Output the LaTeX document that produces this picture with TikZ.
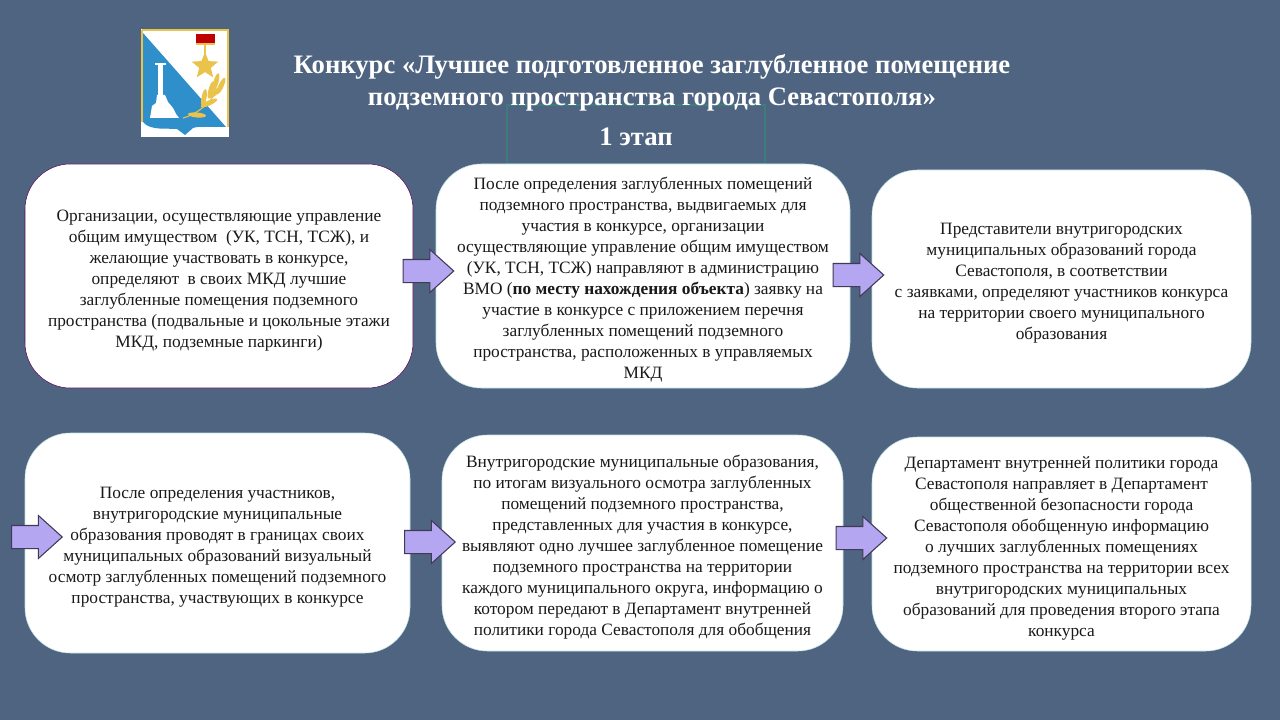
\documentclass[tikz,border=0pt]{standalone}
\usepackage{fontspec}
\setmainfont{Liberation Serif}
\usepackage{xcolor}
\usetikzlibrary{arrows.meta,shapes.arrows,shapes.geometric}
\definecolor{MyBack}{HTML}{4F6480}
\definecolor{MyBlue}{HTML}{2F8FCB}
\definecolor{MyGold}{HTML}{E9C34A}
\definecolor{MyPurple}{HTML}{B5A6F2}
\definecolor{MyTeal}{HTML}{3E7C7C}
\newcommand{\MyGap}{\rule{0pt}{15pt}}

\begin{document}
\begin{tikzpicture}[
   x=0.75pt, y=-0.75pt,
MyBox/.style={draw, fill=white, rounded corners=34pt, outer sep=0pt, anchor=north west,
                text=black!90, align=center, inner sep=0pt,
                font=\fontsize{13}{15.75}\selectfont},
MyArrow/.style={shape=single arrow, draw=MyPurple!35!black, fill=MyPurple, line width=0.8pt,
                minimum height=38pt, minimum width=31.5pt, inner xsep=0pt, inner ysep=8.25pt,
                single arrow head extend=7.5pt, single arrow tip angle=84},
MyTitle/.style={text=white, align=center, font=\bfseries\fontsize{20}{24}\selectfont},
  ]
\fill[MyBack] (0,0) rectangle (1280,720);
\useasboundingbox (0,0) rectangle (1280,720);

% emblem
\fill[white] (141,29) rectangle (229,137);
\draw[MyGold, line width=0.8pt] (142,30) -- (228,30) -- (228,127);
\draw[MyGold, line width=0.8pt] (142,30) -- (142,122);
\fill[MyBlue] (143,33) -- (226,127) .. controls (212,127) and (198,126) .. (193,128) -- (185,135) -- (177,129)
   .. controls (168,128) and (150,131) .. (143,122) -- cycle;
\fill[red!75!black] (196,34) rectangle (215,44);
\draw[MyGold, line width=0.8pt] (196,44) -- (215,44);
\draw[MyGold, line width=0.8pt] (205,44) -- (205,54);
\node[star, star points=5, star point ratio=2.3, fill=MyGold, inner sep=0pt, minimum size=21pt] (star) at (205,66) {};
\fill[white] (155,63) rectangle (166,65);
\fill[white] (158,65) rectangle (163,97);
\fill[white] (150,118) -- (152,106) -- (156,103) -- (157,95) -- (165,95) -- (168,102) -- (173,108) -- (176,114) -- (179,118) -- cycle;
\draw[MyGold, line width=0.8pt] (183,118) .. controls (198,114) and (212,102) .. (220,85);
\foreach \a/\b/\r in {197/115/-5, 209/103/25, 204/98/80, 216/92/40, 211/90/75, 221/86/65, 216/82/75}
  \fill[MyGold, shift={(\a,\b)}, rotate=\r] (0,0) ellipse (9 and 2.5);

% title
\node[draw=MyTeal, line width=0.8pt, minimum width=193.5pt, minimum height=44pt, inner sep=0pt, outer sep=0pt, anchor=north west] (frame) at (507,105) {};
\node[MyTitle] (title) at (652,82.5) {Конкурс «Лучшее подготовленное заглубленное помещение\\подземного пространства города Севастополя»};
\node[MyTitle] (stage) at (636,137) {1 этап};

% boxes
\node[MyBox, draw=violet!70!black, minimum width=291pt, minimum height=168pt] (1) at (25,164) {\MyGap Организации, осуществляющие управление\\общим имуществом\ \ (УК, ТСН, ТСЖ), и\\желающие участвовать в конкурсе,\\определяют\ \ в своих МКД лучшие\\заглубленные помещения подземного\\пространства (подвальные и цокольные этажи\\МКД, подземные паркинги)};
\node[MyBox, draw=teal!25!white, minimum width=310.5pt, minimum height=168pt] (2) at (436,164) {\MyGap После определения заглубленных помещений\\подземного пространства, выдвигаемых для\\участия в конкурсе, организации\\осуществляющие управление общим имуществом\\(УК, ТСН, ТСЖ) направляют в администрацию\\ВМО (\textbf{по месту нахождения объекта}) заявку на\\участие в конкурсе с приложением перечня\\заглубленных помещений подземного\\пространства, расположенных в управляемых\\МКД};
\node[MyBox, draw=teal!25!white, minimum width=284.25pt, minimum height=163.5pt] (3) at (872,170) {\MyGap Представители внутригородских\\муниципальных образований города\\Севастополя, в соответствии\\с заявками, определяют участников конкурса\\на территории своего муниципального\\образования};
\node[MyBox, draw=teal!25!white, minimum width=288.75pt, minimum height=165pt] (4) at (25,433) {\MyGap После определения участников,\\внутригородские муниципальные\\образования проводят в границах своих\\муниципальных образований визуальный\\осмотр заглубленных помещений подземного\\пространства, участвующих в конкурсе};
\node[MyBox, draw=teal!25!white, minimum width=300.75pt, minimum height=162pt] (5) at (442,435) {\MyGap Внутригородские муниципальные образования,\\по итогам визуального осмотра заглубленных\\помещений подземного пространства,\\представленных для участия в конкурсе,\\выявляют одно лучшее заглубленное помещение\\подземного пространства на территории\\каждого муниципального округа, информацию о\\котором передают в Департамент внутренней\\политики города Севастополя для обобщения};
\node[MyBox, draw=teal!25!white, minimum width=284.25pt, minimum height=160.5pt] (6) at (872,437) {\MyGap Департамент внутренней политики города\\Севастополя направляет в Департамент\\общественной безопасности города\\Севастополя обобщенную информацию\\о лучших заглубленных помещениях\\подземного пространства на территории всех\\внутригородских муниципальных\\образований для проведения второго этапа\\конкурса};

% arrows
\node[MyArrow] (a1) at (422,271) {};
\node[MyArrow] (a2) at (852,275) {};
\node[MyArrow] (a3) at (30.5,537) {};
\node[MyArrow] (a4) at (423.5,542) {};
\node[MyArrow] (a5) at (855,538) {};
\end{tikzpicture}
\end{document}
